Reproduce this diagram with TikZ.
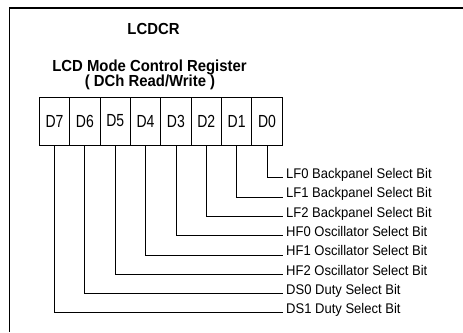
\documentclass[tikz,border=0pt]{standalone}
\usepackage{fontspec}
\setmainfont[FakeStretch=0.93]{Liberation Sans}
\newfontfamily\cellfont[FakeStretch=0.8]{Liberation Sans}
\begin{document}
\begin{tikzpicture}[x=1pt,y=-1pt,
  frame/.style={line width=1.3pt},
  cell/.style={draw, line width=0.6pt, minimum width=30.35pt, minimum height=48pt, inner sep=0pt, font=\cellfont\fontsize{17.5}{17.5}\selectfont},
  conn/.style={line width=0.8pt},
  bitlabel/.style={anchor=base west, inner sep=0pt, font=\fontsize{14}{14}\selectfont},
  title/.style={font=\bfseries\fontsize{16}{16}\selectfont, inner sep=0pt, anchor=base}]
\useasboundingbox (0,0) rectangle (463,332);
\draw[frame] (463,8) -- (9.5,8) -- (9.5,332);
\node[title] (t1) at (153.5,34) {LCDCR};
\node[title] (t2) at (149.5,71) {LCD Mode Control Register};
\node[title] (t3) at (150,86) {( DCh Read/Write )};
\foreach \n [count=\i from 0] in {7,6,5,4,3,2,1,0} {
  \node[cell] (d\n) at (54.5+\i*30.35,121) {D\n};
}
\foreach \k/\txt in {0/LF0 Backpanel Select Bit,1/LF1 Backpanel Select Bit,2/LF2 Backpanel Select Bit,3/HF0 Oscillator Select Bit,4/HF1 Oscillator Select Bit,5/HF2 Oscillator Select Bit,6/DS0 Duty Select Bit,7/DS1 Duty Select Bit} {
  \coordinate (e\k) at (283,177.7+\k*19.3);
  \node[bitlabel] (l\k) at (286,178.5+\k*19.3) {\txt};
  \draw[conn] (d\k.south) |- (e\k);
}
\end{tikzpicture}
\end{document}
